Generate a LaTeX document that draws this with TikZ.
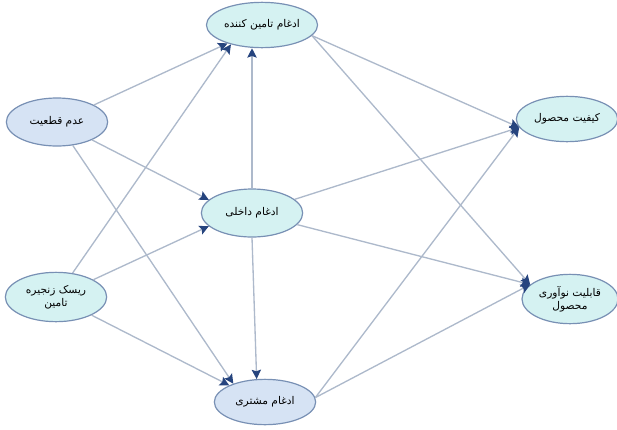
\documentclass[tikz,border=0pt]{standalone}
\usepackage{fontspec}
\newfontfamily\arabicfont[Script=Arabic]{DejaVu Sans}
\TeXXeTstate=1
\usepackage{xcolor}
\definecolor{tealbg}{HTML}{D5F2F2}
\definecolor{bluebg}{HTML}{D6E3F4}
\definecolor{rim}{HTML}{7890B4}
\definecolor{wire}{HTML}{ADB9CB}
\definecolor{tipblue}{HTML}{26447E}
\usepackage{tikz}
\usetikzlibrary{
  arrows.meta,
  positioning,
  shapes.geometric
}

\begin{document}
\begin{tikzpicture}[
  x=0.75pt, y=-0.75pt,
  construct/.style={ellipse, draw=rim, fill=tealbg, line width=0.9pt, minimum width=76pt, minimum height=34pt, inner sep=1pt, align=center, font=\arabicfont\fontsize{8}{9.5}\selectfont},
  exo/.style={construct, fill=bluebg},
  arr/.style={-{Stealth[length=7pt, width=7pt, inset=1.2pt, color=tipblue, fill=tipblue]}, draw=wire, line width=1pt},
]
\useasboundingbox (0,0) rectangle (617,429);

% Nodos principales
\node[construct] (supplier) at (262,25) {\beginR ادغام تامین کننده\endR};
\node[exo, minimum height=36pt] (uncert) at (57,122) {\beginR عدم قطعیت\endR};
\node[construct, minimum height=37pt] (risk) at (56,297) {\beginR ریسک زنجیره\endR\\\beginR تامین\endR};
\node[construct, minimum height=36pt] (internal) at (252,213) {\beginR ادغام داخلی\endR};
\node[exo] (customer) at (265,402) {\beginR ادغام مشتری\endR};
\node[construct] (quality) at (567,119) {\beginR کیفیت محصول\endR};
\node[construct, minimum width=72pt, minimum height=37pt] (innov) at (570,299) {\beginR قابلیت نوآوری\endR\\\beginR محصول\endR};

% Flechas desde las variables exogenas
\draw[arr] (uncert) -- (supplier.208);
\draw[arr] (uncert) -- (internal.163);
\draw[arr] (uncert) -- (customer.150);
\draw[arr] (risk) -- (supplier.212);
\draw[arr] (risk) -- (internal.197);
\draw[arr] (risk) -- (customer.155);

% Integracion interna
\draw[arr] (internal.north) -- (internal.north |- supplier.south);
\draw[arr] (internal.south) -- (customer.110);
\draw[arr] (internal) -- (quality.190);
\draw[arr] (internal) -- (innov.160);

% Hacia los resultados
\draw[arr] (supplier.-12) -- (quality.190);
\draw[arr] (supplier.-12) -- (innov.160);
\draw[arr] (customer.5) -- (quality.190);
\draw[arr] (customer.5) -- (innov.160);

\end{tikzpicture}
\end{document}
